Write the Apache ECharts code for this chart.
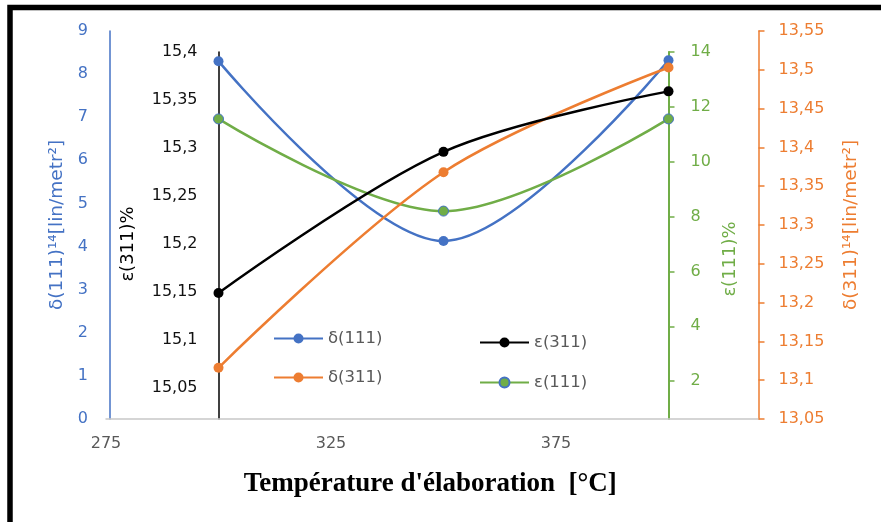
<!DOCTYPE html>
<html>
<head>
<meta charset="utf-8">
<script src="https://cdn.jsdelivr.net/npm/echarts@6/dist/echarts.min.js"></script>
<style>
  html, body { margin: 0; padding: 0; background: #ffffff; }
  #chart { width: 881px; height: 522px; }
</style>
</head>
<body>
<div id="chart"></div>
<script>
// Elaboration temperatures (°C)
const temperatures = [300, 350, 400];

// Dislocation densities and microstrains per temperature
const delta111 = [8.30, 4.13, 8.32];        // δ(111) ×10^14 lin/m²
const delta311 = [13.116, 13.368, 13.503];  // δ(311) ×10^14 lin/m²
const eps311 = [15.149, 15.296, 15.359];    // ε(311) %
const eps111 = [11.56, 8.20, 11.56];        // ε(111) %

// Tick labels
const xTicks = [275, 325, 375];
const delta111Ticks = [0, 1, 2, 3, 4, 5, 6, 7, 8, 9];
const delta311Ticks = [13.05, 13.1, 13.15, 13.2, 13.25, 13.3, 13.35, 13.4, 13.45, 13.5, 13.55];
const eps311Ticks = [15.05, 15.1, 15.15, 15.2, 15.25, 15.3, 15.35, 15.4];
const eps111Ticks = [2, 4, 6, 8, 10, 12, 14];

const COL_BLUE = '#4472C4';
const COL_ORANGE = '#ED7D31';
const COL_GREEN = '#70AD47';
const COL_BLACK = '#000000';
const FONT = "'DejaVu Sans', sans-serif";
const SMOOTH = 0.33;

// The ε axes run on a frame whose full span (15.0–15.4, 0–14) reaches
// slightly below the shared baseline, so their visible minimum is cut there.
const EPS_TOP = 52, EPS_FULL_BOTTOM = 436, BASE = 419;
const cutFrac = (BASE - EPS_TOP) / (EPS_FULL_BOTTOM - EPS_TOP);
const eps311Min = 15.4 - 0.4 * cutFrac;
const eps111Min = 14 - 14 * cutFrac;

const comma = v => String(Number(v.toFixed(2))).replace('.', ',');

const chart = echarts.init(document.getElementById('chart'), null, { renderer: 'canvas' });

const gridBase = { left: 106, right: 122.5, bottom: 522 - BASE, outerBoundsMode: 'none', containLabel: false };

const legendText = { fontFamily: FONT, fontSize: 16.5, color: '#595959' };

const option = {
  backgroundColor: '#ffffff',
  animation: false,
  textStyle: { fontFamily: FONT },
  graphic: [{
    type: 'rect',
    shape: { x: 10, y: 7.5, width: 920, height: 560 },
    style: { fill: 'none', stroke: '#000000', lineWidth: 5.5 },
    silent: true
  }],
  grid: [
    Object.assign({ top: 31 }, gridBase),
    Object.assign({ top: EPS_TOP }, gridBase)
  ],
  legend: [
    {
      data: ['δ(111)', 'δ(311)'],
      orient: 'vertical', left: 273, top: 330, padding: 0,
      itemWidth: 49, itemHeight: 12.5, itemGap: 22,
      textStyle: legendText
    },
    {
      data: ['ε(311)', 'ε(111)'],
      orient: 'vertical', left: 479, top: 334, padding: 0,
      itemWidth: 49, itemHeight: 12.5, itemGap: 23,
      textStyle: legendText
    }
  ],
  xAxis: [
    {
      type: 'value', gridIndex: 0, min: 275, max: 420,
      splitLine: { show: false },
      axisLine: { onZero: false, lineStyle: { color: '#C8C8C8', width: 1.5 } },
      axisTick: { show: false },
      axisLabel: { customValues: xTicks, margin: 17, color: '#595959', fontSize: 16, fontFamily: FONT },
      name: "Température d'élaboration  [°C]",
      nameLocation: 'middle', nameGap: 52,
      nameTextStyle: { fontFamily: "'Liberation Serif', 'Times New Roman', serif", fontWeight: 'bold', fontSize: 27, color: '#000000', padding: [0, 4, 0, 0] }
    },
    {
      type: 'value', gridIndex: 1, min: 275, max: 420, show: false
    }
  ],
  yAxis: [
    {
      type: 'value', gridIndex: 0, position: 'left', offset: -4,
      min: 0, max: 9, interval: 1,
      splitLine: { show: false },
      axisLine: { show: true, onZero: false, lineStyle: { color: COL_BLUE, width: 1.5 } },
      axisTick: { show: false },
      axisLabel: { margin: 22, color: COL_BLUE, fontSize: 16, fontFamily: FONT },
      name: 'δ(111)¹⁴[lin/metr²]', nameLocation: 'middle', nameGap: 43, nameRotate: 90,
      nameTextStyle: { color: COL_BLUE, fontSize: 18.5, fontFamily: FONT }
    },
    {
      type: 'value', gridIndex: 0, position: 'right', offset: 0,
      min: 13.05, max: 13.55,
      splitLine: { show: false },
      axisLine: { show: true, onZero: false, lineStyle: { color: COL_ORANGE, width: 1.5 } },
      axisTick: { show: true, inside: false, length: 6, customValues: delta311Ticks, lineStyle: { color: COL_ORANGE, width: 1.5 } },
      axisLabel: { customValues: delta311Ticks, formatter: comma, margin: 20, color: COL_ORANGE, fontSize: 16, fontFamily: FONT },
      name: 'δ(311)¹⁴[lin/metr²]', nameLocation: 'middle', nameGap: 83, nameRotate: 90,
      nameTextStyle: { color: COL_ORANGE, fontSize: 18.5, fontFamily: FONT }
    },
    {
      type: 'value', gridIndex: 1, position: 'left', offset: -112.5,
      min: eps311Min, max: 15.4,
      splitLine: { show: false },
      axisLine: { show: true, onZero: false, lineStyle: { color: COL_BLACK, width: 1.5 } },
      axisTick: { show: false },
      axisLabel: { customValues: eps311Ticks, formatter: comma, margin: 21, color: '#111111', fontSize: 16, fontFamily: FONT },
      name: 'ε(311)%', nameLocation: 'middle', nameGap: 81, nameRotate: 90,
      nameTextStyle: { color: COL_BLACK, fontSize: 18, fontFamily: FONT, padding: [0, 17, 0, 0] }
    },
    {
      type: 'value', gridIndex: 1, position: 'right', offset: -90,
      min: eps111Min, max: 14,
      splitLine: { show: false },
      axisLine: { show: true, onZero: false, lineStyle: { color: COL_GREEN, width: 2 } },
      axisTick: { show: true, inside: false, length: 6, customValues: eps111Ticks, lineStyle: { color: COL_GREEN, width: 1.5 } },
      axisLabel: { customValues: eps111Ticks, margin: 22, color: COL_GREEN, fontSize: 16, fontFamily: FONT },
      name: 'ε(111)%', nameLocation: 'middle', nameGap: 44, nameRotate: 90,
      nameTextStyle: { color: COL_GREEN, fontSize: 18, fontFamily: FONT, padding: [0, 47, 0, 0] }
    }
  ],
  series: [
    {
      name: 'δ(111)', type: 'line', xAxisIndex: 0, yAxisIndex: 0,
      data: temperatures.map((t, i) => [t, delta111[i]]),
      smooth: SMOOTH, symbol: 'circle', symbolSize: 10,
      lineStyle: { color: COL_BLUE, width: 2.5 }, itemStyle: { color: COL_BLUE }, z: 2
    },
    {
      name: 'ε(111)', type: 'line', xAxisIndex: 1, yAxisIndex: 3,
      data: temperatures.map((t, i) => [t, eps111[i]]),
      smooth: SMOOTH, symbol: 'circle', symbolSize: 10,
      lineStyle: { color: COL_GREEN, width: 2.5 },
      itemStyle: { color: COL_GREEN, borderColor: COL_BLUE, borderWidth: 1 }, z: 3
    },
    {
      name: 'δ(311)', type: 'line', xAxisIndex: 0, yAxisIndex: 1,
      data: temperatures.map((t, i) => [t, delta311[i]]),
      smooth: SMOOTH, symbol: 'circle', symbolSize: 10,
      lineStyle: { color: COL_ORANGE, width: 2.5 }, itemStyle: { color: COL_ORANGE }, z: 4
    },
    {
      name: 'ε(311)', type: 'line', xAxisIndex: 1, yAxisIndex: 2,
      data: temperatures.map((t, i) => [t, eps311[i]]),
      smooth: SMOOTH, symbol: 'circle', symbolSize: 10,
      lineStyle: { color: COL_BLACK, width: 2.5 }, itemStyle: { color: COL_BLACK }, z: 5
    }
  ]
};

chart.setOption(option);
</script>
</body>
</html>
